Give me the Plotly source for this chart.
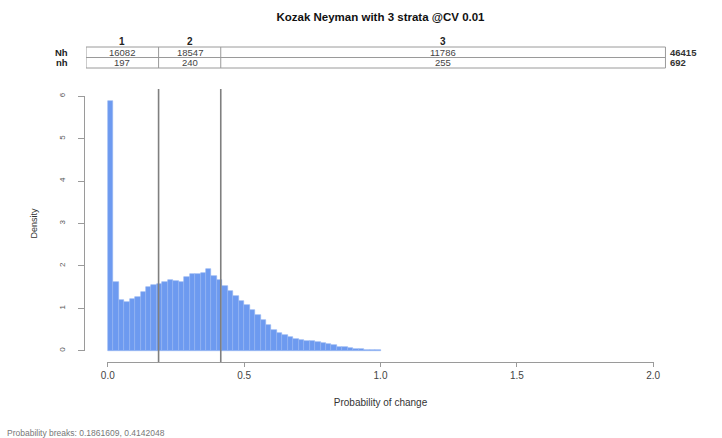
import plotly.graph_objects as go

# ---- data ----
bin_width = 0.02
density = [5.89, 1.63, 1.20, 1.16, 1.22, 1.27, 1.38, 1.51, 1.55, 1.57,
           1.63, 1.68, 1.65, 1.63, 1.74, 1.81, 1.81, 1.83, 1.93, 1.76,
           1.66, 1.52, 1.42, 1.30, 1.18, 1.07, 0.96, 0.84, 0.72, 0.62,
           0.50, 0.43, 0.37, 0.32, 0.27, 0.25, 0.24, 0.23, 0.21, 0.19,
           0.16, 0.13, 0.10, 0.08, 0.07, 0.05, 0.04, 0.03, 0.02, 0.01]
breaks = [0.1861609, 0.4142048]
strata = ["1", "2", "3"]
Nh = [16082, 18547, 11786]
nh = [197, 240, 255]
x_ticks = [0.0, 0.5, 1.0, 1.5, 2.0]
x_tick_labels = ["0.0", "0.5", "1.0", "1.5", "2.0"]
y_ticks = [0, 1, 2, 3, 4, 5, 6]

centers = [bin_width * (i + 0.5) for i in range(len(density))]

FONT = "Liberation Sans, Arial, Helvetica, sans-serif"
XMIN, XMAX = -0.08, 2.08
TABLE_R = 2.045
L, R_, T, B = 86, 675, 86, 361


def py(pix):
    return (B - pix) / (B - T)


def px(pix):
    return (pix - L) / (R_ - L)


fig = go.Figure()
fig.add_trace(go.Bar(
    x=centers, y=density, width=bin_width,
    marker=dict(color="#6d9af0", line=dict(color="#93b5f4", width=0.6)),
    hoverinfo="x+y", showlegend=False,
))

shapes = []
for b in breaks:
    shapes.append(dict(type="line", xref="x", yref="paper", x0=b, x1=b, y0=py(363), y1=py(89),
                       line=dict(color="#7f7f7f", width=1.6)))
# R-style detached axis lines
shapes.append(dict(type="line", xref="paper", yref="y", x0=px(84.5), x1=px(84.5), y0=0, y1=6,
                   line=dict(color="#9a9a9a", width=1)))
shapes.append(dict(type="line", xref="x", yref="paper", x0=0, x1=2, y0=py(362.5), y1=py(362.5),
                   line=dict(color="#9a9a9a", width=1)))

top, mid, bot = py(47), py(57.5), py(68)
edges = [XMIN, breaks[0], breaks[1], TABLE_R]
tbl_line = dict(color="#9a9a9a", width=1)
shapes.append(dict(type="rect", xref="x", yref="paper", x0=XMIN, x1=TABLE_R, y0=bot, y1=top, line=tbl_line))
shapes.append(dict(type="line", xref="x", yref="paper", x0=XMIN, x1=TABLE_R, y0=mid, y1=mid, line=tbl_line))
for b in breaks:
    shapes.append(dict(type="line", xref="x", yref="paper", x0=b, x1=b, y0=bot, y1=top, line=tbl_line))

annotations = []
cell_font = dict(size=9.5, color="#444", family=FONT)
bold_font = dict(size=9.5, color="#222", family=FONT)
for i, s in enumerate(strata):
    cx = (edges[i] + edges[i + 1]) / 2
    annotations.append(dict(x=cx, y=py(41), xref="x", yref="paper", text="<b>%s</b>" % s,
                            xanchor="center", yanchor="middle", showarrow=False,
                            font=dict(size=10, color="#222", family=FONT)))
    annotations.append(dict(x=cx, y=(top + mid) / 2, xref="x", yref="paper", text=str(Nh[i]),
                            xanchor="center", yanchor="middle", showarrow=False, font=cell_font))
    annotations.append(dict(x=cx, y=(mid + bot) / 2, xref="x", yref="paper", text=str(nh[i]),
                            xanchor="center", yanchor="middle", showarrow=False, font=cell_font))
# row labels
for lab, yy in (("Nh", (top + mid) / 2), ("nh", (mid + bot) / 2)):
    annotations.append(dict(x=px(70), y=yy, xref="paper", yref="paper", text="<b>%s</b>" % lab,
                            xanchor="right", yanchor="middle", showarrow=False, font=bold_font))
# totals
for val, yy in ((sum(Nh), (top + mid) / 2), (sum(nh), (mid + bot) / 2)):
    annotations.append(dict(x=px(668), y=yy, xref="paper", yref="paper", text="<b>%d</b>" % val,
                            xanchor="left", yanchor="middle", showarrow=False,
                            font=dict(size=9.5, color="#333", family=FONT)))
# footer
annotations.append(dict(x=px(5), y=py(433), xref="paper", yref="paper",
                        text="Probability breaks: %s, %s" % (breaks[0], breaks[1]),
                        xanchor="left", yanchor="middle", showarrow=False,
                        font=dict(size=8.5, color="#777", family=FONT)))

fig.update_layout(
    width=722, height=438,
    margin=dict(l=L, r=722 - R_, t=T, b=438 - B),
    paper_bgcolor="white", plot_bgcolor="white",
    bargap=0,
    title=dict(text="<b>Kozak Neyman with 3 strata @CV 0.01</b>", x=(L + R_) / 2 / 722, xanchor="center",
               y=1 - 17 / 438, yanchor="middle", font=dict(size=11.5, color="#111", family=FONT)),
    xaxis=dict(range=[XMIN, XMAX], showgrid=False, zeroline=False, showline=False,
               tickvals=x_ticks, ticktext=x_tick_labels, ticks="outside", ticklen=5,
               tickcolor="#9a9a9a", tickfont=dict(size=10, color="#444", family=FONT),
               title=dict(text="Probability of change", font=dict(size=10, color="#333", family=FONT),
                          standoff=18)),
    yaxis=dict(range=[-0.24, 6.24], showgrid=False, zeroline=False, showline=False,
               tickvals=y_ticks, ticks="outside", ticklen=7, tickcolor="#9a9a9a", tickangle=-90,
               ticklabelstandoff=10,
               tickfont=dict(size=8, color="#555", family=FONT),
               title=dict(text="Density", font=dict(size=9, color="#333", family=FONT), standoff=18)),
    shapes=shapes,
    annotations=annotations,
)

fig.write_html("out.html")
